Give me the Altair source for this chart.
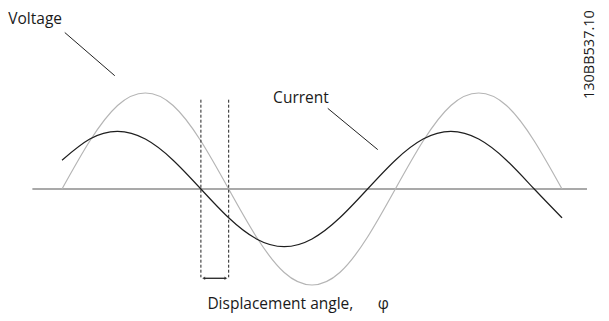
import altair as alt
import pandas as pd

# ---- data (x in electrical degrees, y in per-unit) ----
angle_deg = [0, 30, 60, 90, 120, 150, 180, 210, 240, 270, 300, 330, 360,
             390, 420, 450, 480, 510, 540]
voltage = [0, 0.5, 0.87, 1, 0.87, 0.5, 0, -0.5, -0.87, -1, -0.87, -0.5, 0,
           0.5, 0.87, 1, 0.87, 0.5, 0]
current = [0.3, 0.52, 0.6, 0.52, 0.3, 0, -0.3, -0.52, -0.6, -0.52, -0.3, 0,
           0.3, 0.52, 0.6, 0.52, 0.3, 0, -0.3]

zero_line_x = [-32, 567]
shift_marks_x = [150, 180]        # current and voltage zero crossings
shift_marks_y = [0.93, -0.92]
shift_arrow_x = [153, 177]
shift_arrow_y = -0.93

voltage_pointer = [3, 57, 1.63, 1.18]     # x, x2, y, y2
current_pointer = [287, 341, 0.84, 0.41]

labels = ["Voltage", "Current", "Displacement angle,", "φ"]
labels_x = [-58, 228, 157, 341]
labels_y = [1.72, 0.90, -1.25, -1.25]
code_label = "130BB537.10"
code_x, code_y = 570.5, 1.40

X_DOMAIN = [-58.32, 582.1]
Y_DOMAIN = [-1.2917, 1.8854]

xs = alt.Scale(domain=X_DOMAIN, nice=False, zero=False)
ys = alt.Scale(domain=Y_DOMAIN, nice=False, zero=False)
X = lambda f: alt.X(f, type="quantitative", scale=xs, axis=None)
Y = lambda f: alt.Y(f, type="quantitative", scale=ys, axis=None)

waves = pd.DataFrame({"x": angle_deg, "v": voltage, "i": current})

zero_df = pd.DataFrame({"x": [zero_line_x[0]], "x2": [zero_line_x[1]], "y": [0]})
zero_line = alt.Chart(zero_df).mark_rule(color="#8c8c8c", strokeWidth=1.3).encode(
    x=X("x"), x2="x2", y=Y("y"))

volt_line = alt.Chart(waves).mark_line(
    color="#b5b5b5", strokeWidth=1.2, interpolate="natural").encode(x=X("x"), y=Y("v"))
curr_line = alt.Chart(waves).mark_line(
    color="#1e1e1e", strokeWidth=1.2, interpolate="natural").encode(x=X("x"), y=Y("i"))

dash_df = pd.DataFrame({"x": shift_marks_x,
                        "y": [shift_marks_y[0]] * 2, "y2": [shift_marks_y[1]] * 2})
dashes = alt.Chart(dash_df).mark_rule(
    color="#222222", strokeWidth=1, strokeDash=[3, 2]).encode(
    x=X("x"), y=Y("y"), y2="y2")

arrow_df = pd.DataFrame({"x": [shift_arrow_x[0]], "x2": [shift_arrow_x[1]],
                         "y": [shift_arrow_y]})
arrow = alt.Chart(arrow_df).mark_rule(color="#222222", strokeWidth=1.3).encode(
    x=X("x"), x2="x2", y=Y("y"))
tips_df = pd.DataFrame({"x": shift_arrow_x, "y": [shift_arrow_y] * 2,
                        "shape": ["triangle-left", "triangle-right"]})
tips = alt.Chart(tips_df).mark_point(
    filled=True, color="#222222", size=12).encode(
    x=X("x"), y=Y("y"),
    shape=alt.Shape("shape:N", scale=None, legend=None))

ptr_df = pd.DataFrame({"x": [voltage_pointer[0], current_pointer[0]],
                       "x2": [voltage_pointer[1], current_pointer[1]],
                       "y": [voltage_pointer[2], current_pointer[2]],
                       "y2": [voltage_pointer[3], current_pointer[3]]})
pointers = alt.Chart(ptr_df).mark_rule(color="#222222", strokeWidth=1).encode(
    x=X("x"), x2="x2", y=Y("y"), y2="y2")

lab_df = pd.DataFrame({"t": labels, "x": labels_x, "y": labels_y})
texts = alt.Chart(lab_df).mark_text(
    align="left", baseline="alphabetic", font="Open Sans", fontSize=15.5,
    color="#1a1a1a").encode(x=X("x"), y=Y("y"), text="t:N")

code_df = pd.DataFrame({"t": [code_label], "x": [code_x], "y": [code_y]})
code = alt.Chart(code_df).mark_text(
    align="center", baseline="middle", angle=270, font="Open Sans",
    fontSize=14.5, color="#1a1a1a").encode(x=X("x"), y=Y("y"), text="t:N")

chart = alt.layer(
    zero_line, volt_line, curr_line, dashes, arrow, tips, pointers, texts, code
).properties(
    width=593, height=305,
    autosize=alt.AutoSizeParams(type="none"),
    padding=0,
).configure_view(stroke=None)

chart.save("out.html", embed_options={"renderer": "svg", "actions": False})
